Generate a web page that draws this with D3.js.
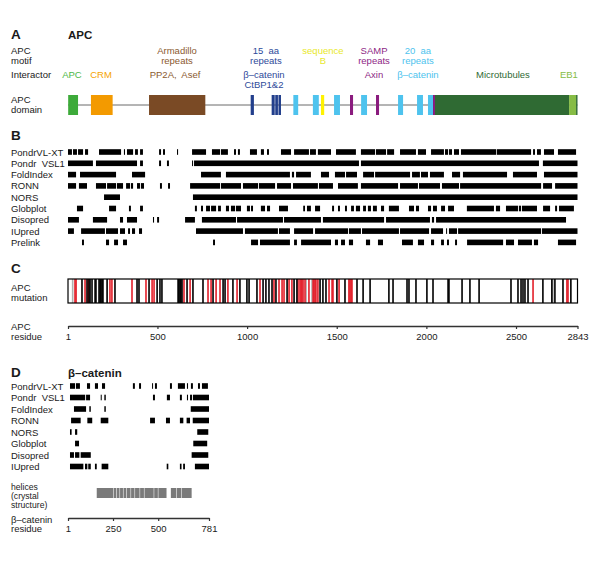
<!DOCTYPE html>
<html><head><meta charset="utf-8">
<script src="https://cdn.jsdelivr.net/npm/d3@7"></script>
<style>
body{margin:0;background:#fff}
svg text{font-family:"Liberation Sans",Arial,sans-serif;white-space:pre}
</style>
</head><body>
<svg id="c" width="600" height="565"></svg>
<script>
// ---------------- DATA ----------------
const apcLength = 2843;
const cateninLength = 781;

// APC domains: [start, end, type]
const apcDomains = [
  [2,57,"oligo"],[129,250,"crm"],[453,767,"arm"],
  [1020,1038,"r15"],[1137,1154,"r15"],[1157,1172,"r15"],[1175,1189,"r15"],
  [1258,1285,"r20"],[1367,1400,"r20"],[1412,1430,"seqB"],[1485,1518,"r20"],
  [1574,1591,"samp"],[1636,1669,"r20"],[1719,1736,"samp"],[1842,1870,"r20"],
  [1948,1981,"r20"],[2009,2037,"r20"],[2037,2048,"samp"],
  [2048,2796,"mt"],[2796,2835,"eb1"],[2835,2843,"mt"]
];
const motifLabels = [
  ["Armadillo","repeats","arm"],["15  aa","repeats","r15"],["sequence","B","seqB"],
  ["SAMP","repeats","samp"],["20  aa","repeats","r20"]
];
const motifAnchors = [609,1105,1423,1708,1953];
const interactorLabels = [
  ["APC","oligo"],["CRM","crm"],["PP2A,  Asef","arm"],["β–catenin","r15"],
  ["Axin","samp"],["β–catenin","r20"],["Microtubules","mt"],["EB1","eb1"]
];
const interactorAnchors = [23,185,598,1094,1708,1953,2427,2795];

// Disorder predictors (APC), segments [start,end] in residues
const predictorNames = ["PondrVL-XT","Pondr  VSL1","FoldIndex","RONN","NORS","Globplot","Disopred","IUpred","Prelink"];
const pondrVLXT = [[1,23],[29,51],[57,85],[96,113],[174,297],[313,319],[330,364],[375,391],[403,419],[509,520],[531,542],[609,615],[693,771],[804,849],[854,893],[927,938],[949,960],[1016,1055],[1077,1094],[1111,1122],[1189,1245],[1262,1345],[1351,1384],[1395,1468],[1496,1607],[1635,1714],[1719,1775],[1781,1820],[1853,1942],[1953,1998],[2026,2098],[2104,2121],[2126,2143],[2154,2182],[2193,2390],[2394,2584],[2595,2606],[2617,2639],[2656,2712],[2734,2835]];
const pondrVSL1 = [[1,140],[157,386],[403,419],[509,520],[553,564],[693,698],[704,1624],[1635,2628],[2650,2843]];
const foldIndex = [[1,46],[68,269],[358,431],[743,854],[882,1239],[1250,1262],[1273,1356],[1412,1457],[1490,1546],[1552,1613],[1647,1708],[1714,1909],[1920,1964],[1970,2009],[2020,2098],[2143,2188],[2204,2450],[2483,2617],[2656,2843]];
const ronn = [[1,46],[62,107],[157,213],[219,269],[274,308],[325,347],[352,364],[386,403],[408,425],[514,525],[559,570],[682,849],[854,966],[977,1061],[1066,1156],[1167,1245],[1256,1395],[1401,1479],[1507,1618],[1635,1842],[1853,1953],[1959,2076],[2087,2182],[2188,2640],[2651,2701],[2718,2843]];
const nors = [[202,291],[698,2843]];
const globplot = [[51,85],[230,269],[341,352],[403,419],[709,720],[743,754],[771,793],[799,827],[838,854],[882,899],[910,933],[938,966],[999,1016],[1022,1033],[1077,1100],[1111,1128],[1178,1228],[1313,1323],[1334,1356],[1379,1407],[1474,1485],[1507,1518],[1546,1557],[1580,1596],[1607,1630],[1647,1663],[1674,1691],[1702,1724],[1747,1764],[1791,1847],[1903,1931],[1942,1959],[2009,2026],[2037,2059],[2082,2104],[2121,2154],[2226,2377],[2388,2411],[2444,2511],[2516,2528],[2533,2617],[2651,2690],[2718,2729],[2740,2823]];
const disopred = [[1,62],[140,219],[291,308],[330,386],[475,481],[498,509],[654,709],[748,938],[944,1200],[1206,1412],[1423,1764],[1775,2020],[2031,2043],[2054,2779]];
const iupred = [[1,34],[74,207],[213,280],[291,319],[336,347],[358,375],[397,414],[715,977],[988,1172],[1178,1239],[1262,1368],[1379,1563],[1568,1635],[1641,1847],[1853,2015],[2026,2093],[2110,2115],[2126,2171],[2177,2640],[2645,2843]];
const prelink = [[79,90],[213,230],[258,280],[308,330],[810,821],[1022,1061],[1072,1239],[1262,1278],[1301,1468],[1490,1507],[1524,1546],[1568,1591],[1663,1686],[1730,1758],[1864,1925],[1953,1987],[2026,2043],[2082,2098],[2115,2126],[2160,2171],[2227,2428],[2444,2489],[2511,2589],[2600,2623],[2734,2835]];
const apcPredictors = [pondrVLXT,pondrVSL1,foldIndex,ronn,nors,globplot,disopred,iupred,prelink];

// APC mutations (residue positions)
const mutBlack = [79,107,118,124,135,152,157,174,180,185,191,196,219,263,386,397,453,498,514,525,615,620,626,631,637,665,698,754,810,866,877,921,960,999,1011,1055,1089,1105,1122,1139,1161,1223,1262,1278,1407,1423,1440,1501,1546,1613,1647,1686,1791,1814,1892,1903,1942,2003,2037,2121,2126,2199,2243,2294,2472,2511,2528,2539,2550,2567,2650,2700,2717,2762,2806];
const mutRed = [40,46,96,113,235,246,358,436,470,481,648,682,782,799,827,849,893,944,1072,1150,1178,1195,1206,1234,1250,1284,1295,1301,1306,1312,1323,1345,1368,1373,1379,1384,1395,1457,1474,1479,1513,1568,1574,1580,1585,2595,2784,2790];
const mutGray = [27,1329,1362,2706];
const apcTicks = [1,500,1000,1500,2000,2500,2843];

// beta-catenin
const catPredictorNames = ["PondrVL-XT","Pondr  VSL1","FoldIndex","RONN","NORS","Globplot","Disopred","IUpred"];
const catPondrVLXT = [[12,40],[45,67],[106,123],[150,167],[189,206],[360,371],[394,405],[466,471],[482,493],[565,576],[609,648],[659,665],[681,692],[720,731],[742,775]];
const catPondrVSL1 = [[12,96],[101,123],[182,187],[202,210],[471,482],[548,565],[620,631],[659,665],[676,687],[692,781]];
const catFoldIndex = [[34,101],[119,127],[202,210],[680,781]];
const catRonn = [[18,71],[108,135],[182,224],[455,482],[543,565],[620,639],[657,676],[691,781]];
const catNors = [[12,21],[40,52],[716,777]];
const catGlobplot = [[40,62],[694,771]];
const catDisopred = [[12,34],[40,64],[71,127],[685,777]];
const catIupred = [[12,86],[95,108],[113,127],[150,160],[187,224],[547,556],[620,629],[638,648],[703,781]];
const catPredictors = [catPondrVLXT,catPondrVSL1,catFoldIndex,catRonn,catNors,catGlobplot,catDisopred,catIupred];
const catHelices = [[160,250],[253,268],[271,286],[289,305],[308,323],[326,347],[350,369],[372,397],[400,421],[424,475],[478,498],[501,546],[570,600],[603,628],[631,685]];
const catTicks = [1,250,500,781];

// ---------------- STYLE ----------------
const domainFill = {oligo:"#3DAA3A",crm:"#F39A00",arm:"#7A4A25",r15:"#223F8C",r20:"#4EC3EE",seqB:"#FFF200",samp:"#8A1B7E",mt:"#2F6A33",eb1:"#86BC45"};
const labelFill = {oligo:"#4CB848",crm:"#F5A300",arm:"#8B5A2F",r15:"#2E4A9A",r20:"#4EC3EE",seqB:"#E8E82A",samp:"#8E1F85",mt:"#2F6A33",eb1:"#86BC45"};

const svg = d3.select("#c");
const xA = d3.scaleLinear().domain([1,apcLength]).range([68,577.5]);
const xC = d3.scaleLinear().domain([1,cateninLength]).range([68,209]);

function text(x,y,s,o={}){
  return svg.append("text").attr("x",x).attr("y",y).text(s)
    .attr("font-size",o.size||9.5).attr("fill",o.fill||"#1a1a1a")
    .attr("font-weight",o.bold?"bold":"normal")
    .attr("text-anchor",o.anchor||"start");
}
function multiline(x,y,lines,step,o){ lines.forEach((l,i)=>text(x,y+i*step,l,o)); }

// ---------------- PANEL A ----------------
text(11,38.5,"A",{size:13.5,bold:true});
text(68,38.5,"APC",{size:11.5,bold:true});
multiline(11,54,["APC","motif"],9.5);
text(11,77.5,"Interactor");
multiline(11,103,["APC","domain"],9.5);

motifLabels.forEach((m,i)=>{
  multiline(xA(motifAnchors[i]),54,[m[0],m[1]],9.5,{anchor:"middle",fill:labelFill[m[2]]});
});
interactorLabels.forEach((m,i)=>{
  text(xA(interactorAnchors[i]),77.5,m[0],{anchor:"middle",fill:labelFill[m[1]]});
});
text(xA(1094),88,"CtBP1&2",{anchor:"middle",fill:labelFill.r15});

svg.append("line").attr("x1",xA(1)).attr("x2",xA(apcLength)).attr("y1",105).attr("y2",105)
  .attr("stroke","#6b6b6b").attr("stroke-width",1);
svg.append("g").selectAll("rect").data(apcDomains).join("rect")
  .attr("x",d=>xA(d[0])).attr("width",d=>Math.max(1,xA(d[1])-xA(d[0])))
  .attr("y",95).attr("height",20).attr("fill",d=>domainFill[d[2]]);

// ---------------- PANEL B ----------------
text(11,140,"B",{size:13.5,bold:true});
const rowB = i=>152+i*11.3;
predictorNames.forEach((n,i)=>{
  text(11,rowB(i)+3.5,n);
  svg.append("g").selectAll("rect").data(apcPredictors[i]).join("rect")
    .attr("x",d=>xA(d[0])).attr("width",d=>Math.max(1,xA(d[1])-xA(d[0])))
    .attr("y",rowB(i)-2.8).attr("height",5.6).attr("fill","#000");
});

// ---------------- PANEL C ----------------
text(11,273,"C",{size:13.5,bold:true});
multiline(11,291,["APC","mutation"],9.5);
const gm = svg.append("g");
[[mutGray,"#b0b0b0"],[mutRed,"#E3202B"],[mutBlack,"#000"]].forEach(([arr,col])=>{
  gm.selectAll(null).data(arr).join("rect")
    .attr("x",d=>xA(d)-0.8).attr("width",1.6).attr("y",279).attr("height",24).attr("fill",col);
});
svg.append("rect").attr("x",xA(1)).attr("y",279).attr("width",xA(apcLength)-xA(1)).attr("height",24)
  .attr("fill","none").attr("stroke","#000").attr("stroke-width",1.2);

multiline(11,330,["APC","residue"],9.5);
const axA = svg.append("g").attr("transform","translate(0,326)")
  .call(d3.axisBottom(xA).tickValues(apcTicks).tickFormat(d3.format("d")).tickSize(3).tickSizeOuter(0).tickPadding(4));
axA.select(".domain").attr("stroke","#333").attr("stroke-width",1.3);
axA.selectAll(".tick line").attr("stroke","#333").attr("stroke-width",1.2);
axA.selectAll(".tick text").attr("font-size",9.5).attr("fill","#1a1a1a").attr("font-family","Liberation Sans, Arial, sans-serif");

// ---------------- PANEL D ----------------
text(11,377,"D",{size:13.5,bold:true});
text(68,377,"β–catenin",{size:11.5,bold:true});
const rowD = i=>386+i*11.5;
catPredictorNames.forEach((n,i)=>{
  text(11,rowD(i)+3.5,n);
  svg.append("g").selectAll("rect").data(catPredictors[i]).join("rect")
    .attr("x",d=>xC(d[0])).attr("width",d=>Math.max(1,xC(d[1])-xC(d[0])))
    .attr("y",rowD(i)-2.8).attr("height",5.6).attr("fill","#000");
});
multiline(11,489.5,["helices","(crystal","structure)"],9,{size:8.6});
svg.append("g").selectAll("rect").data(catHelices).join("rect")
  .attr("x",d=>xC(d[0])).attr("width",d=>Math.max(1,xC(d[1])-xC(d[0])))
  .attr("y",488).attr("height",10).attr("fill","#7a7a7a");

multiline(11,522.5,["β–catenin","residue"],9.5);
const axD = svg.append("g").attr("transform","translate(0,518)")
  .call(d3.axisBottom(xC).tickValues(catTicks).tickFormat(d3.format("d")).tickSize(3).tickSizeOuter(0).tickPadding(4));
axD.select(".domain").attr("stroke","#333").attr("stroke-width",1.3);
axD.selectAll(".tick line").attr("stroke","#333").attr("stroke-width",1.2);
axD.selectAll(".tick text").attr("font-size",9.5).attr("fill","#1a1a1a").attr("font-family","Liberation Sans, Arial, sans-serif");
</script>
</body></html>
